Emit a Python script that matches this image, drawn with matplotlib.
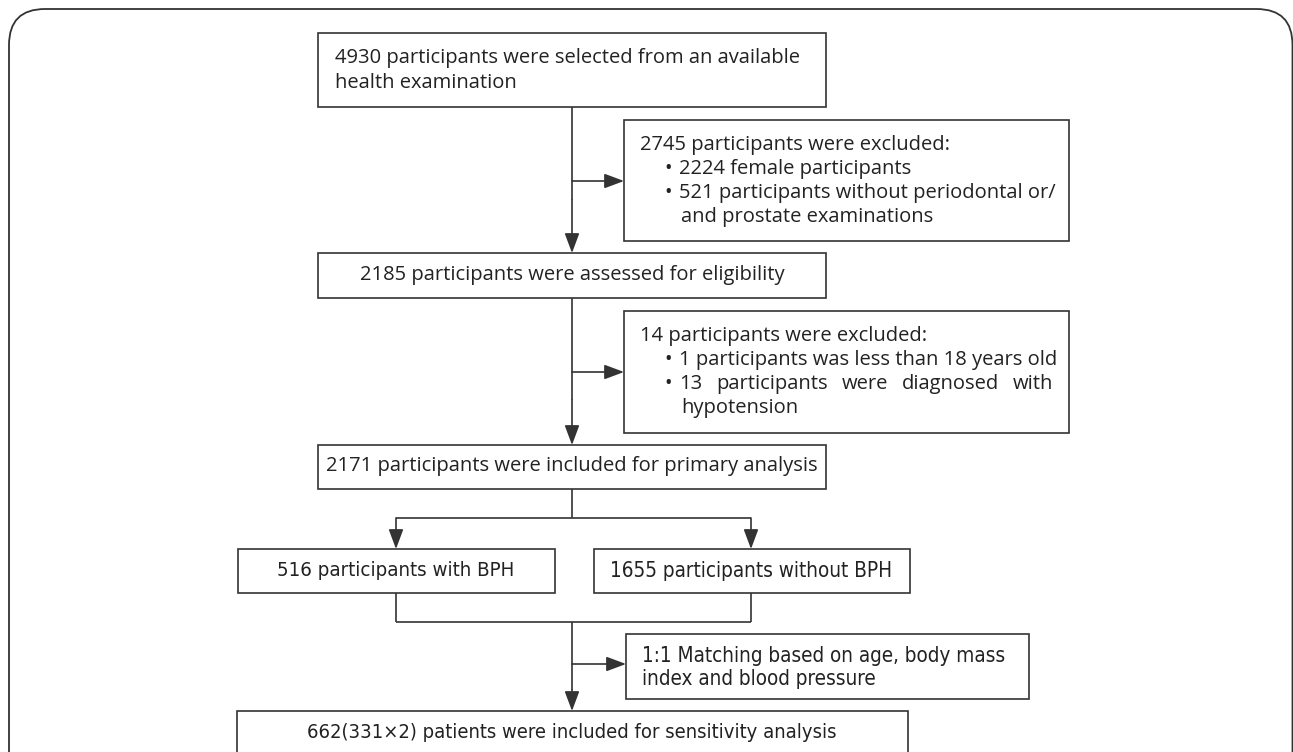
import matplotlib
matplotlib.use("Agg")
import matplotlib.pyplot as plt
from matplotlib import font_manager
from matplotlib.patches import Rectangle, FancyBboxPatch, FancyArrowPatch

# box texts of the flow chart
start_text = ["4930 participants were selected from an available",
              "health examination"]
excl1_head = "2745 participants were excluded:"
excl1_items = [["2224 female participants"],
               ["521 participants without periodontal or/",
                "and prostate examinations"]]
eligible_text = "2185 participants were assessed for eligibility"
excl2_head = "14 participants were excluded:"
excl2_items = [["1 participants was less than 18 years old"],
               ["13 participants were diagnosed with", "hypotension"]]
primary_text = "2171 participants were included for primary analysis"
group_texts = ["516 participants with BPH", "1655 participants without BPH"]
match_text = ["1:1 Matching based on age, body mass",
              "index and blood pressure"]
final_text = "662(331\u00d72) patients were included for sensitivity analysis"

LC = "#333333"
TC = "#222222"
F1 = ["Open Sans", "DejaVu Sans"]
FS = 14.5

# a narrow face for the lower part, if one is installed
NARROW = dict(family=["Roboto", "DejaVu Sans"])
for f in font_manager.fontManager.ttflist:
    if f.style == "normal" and f.weight in (400, "normal") and f.stretch in ("condensed", "semi-condensed"):
        NARROW = dict(family=[f.name, "DejaVu Sans"], fontstretch=f.stretch)
        break

fig = plt.figure(figsize=(12.93, 7.52), dpi=100)
ax = fig.add_axes([0, 0, 1, 1])
ax.set_xlim(0, 1293)
ax.set_ylim(752, 0)
ax.axis("off")
renderer = fig.canvas.get_renderer()

# outer rounded frame (right and bottom run off the picture)
ax.add_patch(FancyBboxPatch((9, 9), 1283.5, 900, boxstyle="round,pad=0,rounding_size=36",
                            fc="none", ec=LC, lw=1.3))


def box(x0, y0, x1, y1):
    ax.add_patch(Rectangle((x0, y0), x1 - x0, y1 - y0, fc="white", ec=LC, lw=1.2, zorder=2))


def line(xs, ys):
    ax.plot(xs, ys, color=LC, lw=1.2, zorder=1, solid_capstyle="butt")


def arrow(x0, y0, x1, y1):
    ax.add_patch(FancyArrowPatch((x0, y0), (x1, y1), arrowstyle="-|>,head_length=0.75,head_width=0.28",
                                 mutation_scale=16, color=LC, lw=1.2, shrinkA=0, shrinkB=0, zorder=3))


def txt(x, y, s, ha="left", size=FS, **kw):
    if not kw:
        kw = dict(family=F1)
    return ax.text(x, y, s, ha=ha, va="center", fontsize=size, color=TC, zorder=4, **kw)


def fit(x, y, s, width, ha="center", **kw):
    # narrow text, sized so it spans the width
    t = txt(x, y, s, ha=ha, size=14, **kw)
    w = t.get_window_extent(renderer).width
    t.set_fontsize(14 * width / w)
    return t


def justified(x0, x1, y, s):
    words = s.split()
    ts = [txt(x0, y, w) for w in words]
    ws = [t.get_window_extent(renderer).width for t in ts]
    gap = (x1 - x0 - sum(ws)) / (len(words) - 1)
    x = x0
    for t, w in zip(ts, ws):
        t.set_x(x)
        x += w + gap


def bullets(items, y0, dy):
    yy = y0
    for item in items:
        for j, s in enumerate(item):
            if j == 0:
                txt(668, yy, "\u2022", ha="center")
            if s.startswith("13 "):
                justified(679, 1053, yy, s)
            else:
                txt(679 if j == 0 else 681, yy, s)
            yy += dy


# main column
cx = 572
box(318, 33, 826, 107)
for i, s in enumerate(start_text):
    txt(335, 58 + i * 25, s)

line([cx, cx], [107, 200])
arrow(cx, 181, 624, 181)
arrow(cx, 200, cx, 253)

box(624, 120, 1069, 241)
txt(640, 145, excl1_head)
bullets(excl1_items, 169, 24)

box(318, 253, 826, 298)
txt(cx, 275, eligible_text, ha="center")

line([cx, cx], [298, 400])
arrow(cx, 372, 624, 372)
arrow(cx, 400, cx, 445)

box(624, 311, 1069, 433)
txt(640, 336, excl2_head)
bullets(excl2_items, 360, 24)

box(318, 445, 826, 489)
txt(cx, 466, primary_text, ha="center")

# split into the two groups
gx = [396, 751]
line([cx, cx], [489, 518])
line([gx[0], gx[1]], [518, 518])
for x in gx:
    arrow(x, 518, x, 549)
box(238, 549, 555, 593)
box(594, 549, 910, 593)
fit(gx[0], 571, group_texts[0], 240, **NARROW)
fit(gx[1], 571, group_texts[1], 284, **NARROW)

# merge and matching
line([gx[0], gx[0]], [593, 622])
line([gx[1], gx[1]], [593, 622])
line([gx[0], gx[1]], [622, 622])
line([cx, cx], [622, 690])
arrow(cx, 664, 626, 664)
arrow(cx, 690, cx, 711)
box(626, 634, 1029, 699)
t = fit(642, 656, match_text[0], 367, ha="left", **NARROW)
txt(642, 679, match_text[1], ha="left", size=t.get_fontsize(), **NARROW)

box(237, 711, 908, 800)
fit(572, 733, final_text, 534, **NARROW)

fig.savefig("out.png", dpi=100)
